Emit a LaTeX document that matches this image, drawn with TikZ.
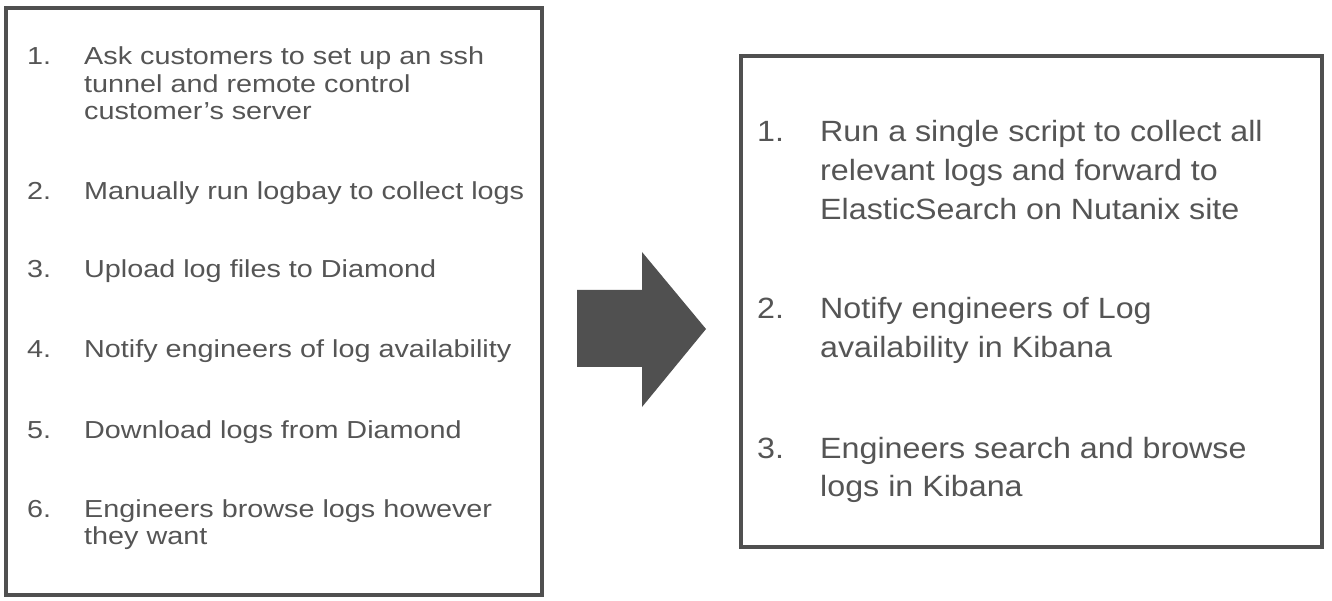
\documentclass[tikz,border=0pt]{standalone}
\usepackage{fontspec}
\newfontfamily\lfont[FakeStretch=1.17]{Liberation Sans}
\newfontfamily\rfont[FakeStretch=1.1]{Liberation Sans}
\newcommand\itemlines[1]{\begin{tabular}[t]{@{}l@{}}#1\end{tabular}}
\definecolor{txtgray}{HTML}{555555}
\definecolor{linegray}{HTML}{505050}
\begin{document}
\begin{tikzpicture}[x=1pt,y=1pt,
  panel/.style={draw=linegray, line width=3.5pt, inner sep=0pt},
  ltext/.style={anchor=base west, inner sep=0pt, text=txtgray, font=\lfont\fontsize{24.6}{27.5}\selectfont},
  rtext/.style={anchor=base west, inner sep=0pt, text=txtgray, font=\rfont\fontsize{29.3}{38.8}\selectfont},
  bigarrow/.style={fill=linegray, draw=none}]
\useasboundingbox (0,0) rectangle (1332,600);
\fill[white] (0,0) rectangle (1332,600);
% panels
\node[panel, minimum width=536pt, minimum height=587pt] (lbox) at (274,298.5) {};
\node[panel, minimum width=581pt, minimum height=491pt] (rbox) at (1031.5,298.5) {};
% left list
\node[ltext] (ln1) at (27,535) {1.};
\node[ltext] (lt1) at (84,535) {\itemlines{Ask customers to set up an ssh\\tunnel and remote control\\customer’s server}};
\node[ltext] (ln2) at (27,400) {2.};
\node[ltext] (lt2) at (84,400) {Manually run logbay to collect logs};
\node[ltext] (ln3) at (27,322) {3.};
\node[ltext] (lt3) at (84,322) {Upload log files to Diamond};
\node[ltext] (ln4) at (27,242) {4.};
\node[ltext] (lt4) at (84,242) {Notify engineers of log availability};
\node[ltext] (ln5) at (27,162) {5.};
\node[ltext] (lt5) at (84,162) {Download logs from Diamond};
\node[ltext] (ln6) at (27,83) {6.};
\node[ltext] (lt6) at (84,83) {\itemlines{Engineers browse logs however\\they want}};
% right list
\node[rtext] (rn1) at (757,458.5) {1.};
\node[rtext] (rt1) at (820,458.5) {\itemlines{Run a single script to collect all\\relevant logs and forward to\\ElasticSearch on Nutanix site}};
\node[rtext] (rn2) at (757,281) {2.};
\node[rtext] (rt2) at (820,281) {\itemlines{Notify engineers of Log\\availability in Kibana}};
\node[rtext] (rn3) at (757,142) {3.};
\node[rtext] (rt3) at (820,142) {\itemlines{Engineers search and browse\\logs in Kibana}};
% block arrow between panels
\coordinate (a1) at (577,310);
\coordinate (a2) at (642,310);
\coordinate (a3) at (642,348);
\coordinate (tip) at (706,271);
\coordinate (a5) at (642,193);
\coordinate (a6) at (642,233);
\coordinate (a7) at (577,233);
\fill[bigarrow] (a1) -- (a2) -- (a3) -- (tip) -- (a5) -- (a6) -- (a7) -- cycle;
\end{tikzpicture}
\end{document}
